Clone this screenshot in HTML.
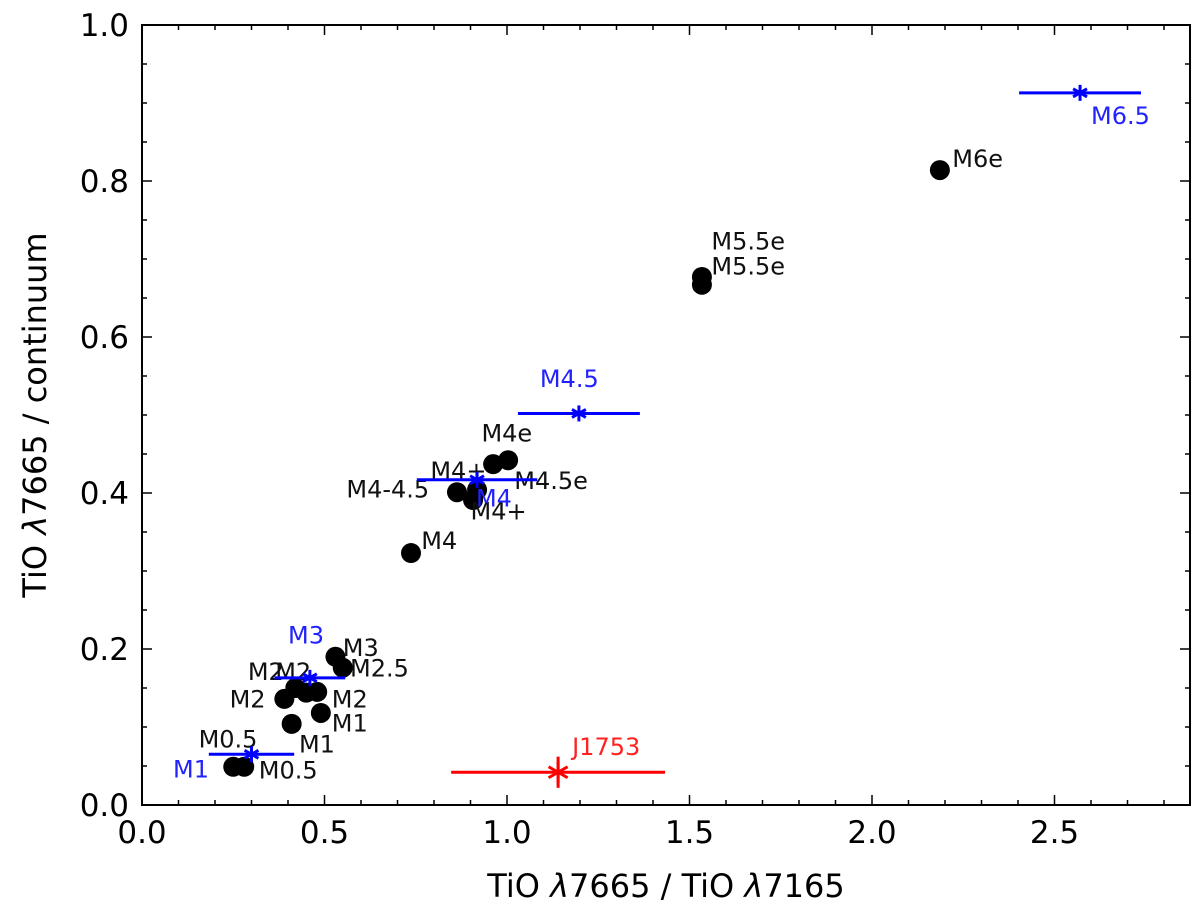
<!DOCTYPE html>
<html><head><meta charset="utf-8"><style>
body{margin:0;background:#fff;}
svg{display:block;font-family:"DejaVu Sans","Liberation Sans",sans-serif;}
</style></head><body>
<svg id="chart" width="1200" height="915">
<rect x="0" y="0" width="1200" height="915" fill="#fff"/>
<g id="marks"></g>
<rect x="142" y="25" width="1048" height="780" fill="none" stroke="#000" stroke-width="2"/>
<g id="axes"></g>
<text x="666" y="897" font-size="32" text-anchor="middle">TiO <tspan font-style="italic">λ</tspan>7665 / TiO <tspan font-style="italic">λ</tspan>7165</text>
<text transform="translate(46,415) rotate(-90)" font-size="32" text-anchor="middle">TiO <tspan font-style="italic">λ</tspan>7665 / continuum</text>
</svg>
<script>
const starX=[0.25,0.28,0.41,0.49,0.39,0.42,0.45,0.48,0.53,0.55,0.737,0.863,0.907,0.918,0.962,1.003,1.534,1.534,2.186];
const starY=[0.049,0.049,0.104,0.118,0.136,0.150,0.144,0.145,0.190,0.176,0.323,0.401,0.391,0.404,0.437,0.442,0.677,0.667,0.814];
const stdX=[0.30,0.46,0.918,1.197,2.57];
const stdY=[0.065,0.163,0.417,0.502,0.913];
const stdXerr=[0.117,0.097,0.165,0.167,0.167];
const stdLabels=["M1","M3","M4","M4.5","M6.5"];
const targetX=[1.14];
const targetY=[0.042];
const targetXerr=[0.293];
const targetYerr=[0.02];
const xTicks=[0,0.5,1.0,1.5,2.0,2.5];
const xTickLabels=["0.0","0.5","1.0","1.5","2.0","2.5"];
const yTicks=[0,0.2,0.4,0.6,0.8,1.0];
const yTickLabels=["0.0","0.2","0.4","0.6","0.8","1.0"];
const blackLabels=[["M0.5",0.155,0.074],["M0.5",0.32,0.034],["M1",0.43,0.067],["M1",0.52,0.094],["M2",0.24,0.125],["M2",0.29,0.160],["M2",0.365,0.160],["M2",0.52,0.125],["M3",0.55,0.191],["M2.5",0.57,0.165],["M4",0.765,0.328],["M4-4.5",0.56,0.394],["M4+",0.79,0.418],["M4+",0.90,0.366],["M4e",0.93,0.466],["M4.5e",1.02,0.405],["M5.5e",1.56,0.712],["M5.5e",1.56,0.680],["M6e",2.22,0.818]];
const stdLabelPos=[[0.085,0.035],[0.40,0.207],[0.915,0.383],[1.09,0.536],[2.60,0.873]];

const ns="http://www.w3.org/2000/svg";
const X0=142,X1=1190,Y0=805,Y1=25;
const sx=v=>X0+v*365, sy=v=>Y0-v*780;
const marks=document.getElementById('marks'), axes=document.getElementById('axes');
function mk(tag,attrs,parent){const e=document.createElementNS(ns,tag);for(const k in attrs)e.setAttribute(k,attrs[k]);parent.appendChild(e);return e;}
for(let i=0;i<=28;i++){const v=i*0.1;const px=sx(v);if(px>X1)break;const major=i%5===0;const L=major?10:5;
 const t1=mk('line',{x1:px,x2:px,y1:Y0,y2:Y0-L,stroke:'#000','stroke-width':1.5},axes);
 
 
 mk('line',{x1:px,x2:px,y1:Y1,y2:Y1+L,stroke:'#000','stroke-width':1.5},axes);}
for(let i=0;i<=20;i++){const v=i*0.05;const py=sy(v);const major=i%4===0;const L=major?10:5;
 const t1=mk('line',{x1:X0,x2:X0+L,y1:py,y2:py,stroke:'#000','stroke-width':1.5},axes);
 
 
 mk('line',{x1:X1,x2:X1-L,y1:py,y2:py,stroke:'#000','stroke-width':1.5},axes);}
xTicks.forEach((v,i)=>{const t=mk('text',{x:sx(v),y:843,'font-size':31,'text-anchor':'middle'},axes);t.textContent=xTickLabels[i];
 
 });
yTicks.forEach((v,i)=>{const t=mk('text',{x:129,y:sy(v)+11,'font-size':31,'text-anchor':'end'},axes);t.textContent=yTickLabels[i];
 
 });
starX.forEach((v,i)=>{const c=mk('circle',{cx:sx(v),cy:sy(starY[i]),r:10,fill:'#000'},marks);
 
 });
blackLabels.forEach(l=>{const t=mk('text',{x:sx(l[1]),y:sy(l[2]),'font-size':24,fill:'#111'},marks);t.textContent=l[0];
 
 });
function asterisk(cx,cy,s,col,g){for(const a of [0,60,120]){const r=a*Math.PI/180;mk('line',{x1:cx-s*Math.sin(r),y1:cy-s*Math.cos(r),x2:cx+s*Math.sin(r),y2:cy+s*Math.cos(r),stroke:col,'stroke-width':3},g);}}
stdX.forEach((v,i)=>{const g=mk('g',{},marks);
 
 
 mk('line',{x1:sx(v-stdXerr[i]),x2:sx(v+stdXerr[i]),y1:sy(stdY[i]),y2:sy(stdY[i]),stroke:'#0000ff','stroke-width':3},g);
 asterisk(sx(v),sy(stdY[i]),8,'#0000ff',g);
 const t=mk('text',{x:sx(stdLabelPos[i][0]),y:sy(stdLabelPos[i][1]),'font-size':24,fill:'#2222ff'},marks);t.textContent=stdLabels[i];
 
 });
targetX.forEach((v,i)=>{const g=mk('g',{},marks);
 
 
 const cx=sx(v),cy=sy(targetY[i]);
 mk('line',{x1:sx(v-targetXerr[i]),x2:sx(v+targetXerr[i]),y1:cy,y2:cy,stroke:'#ff0000','stroke-width':3},g);
 mk('line',{x1:cx,x2:cx,y1:sy(targetY[i]+targetYerr[i]),y2:sy(targetY[i]-targetYerr[i]),stroke:'#ff0000','stroke-width':3},g);
 asterisk(cx,cy,11,'#ff0000',g);
 const t=mk('text',{x:cx+14,y:cy-17,'font-size':24,fill:'#ff2222'},marks);t.textContent='J1753';
 
 });
</script>
</body></html>
